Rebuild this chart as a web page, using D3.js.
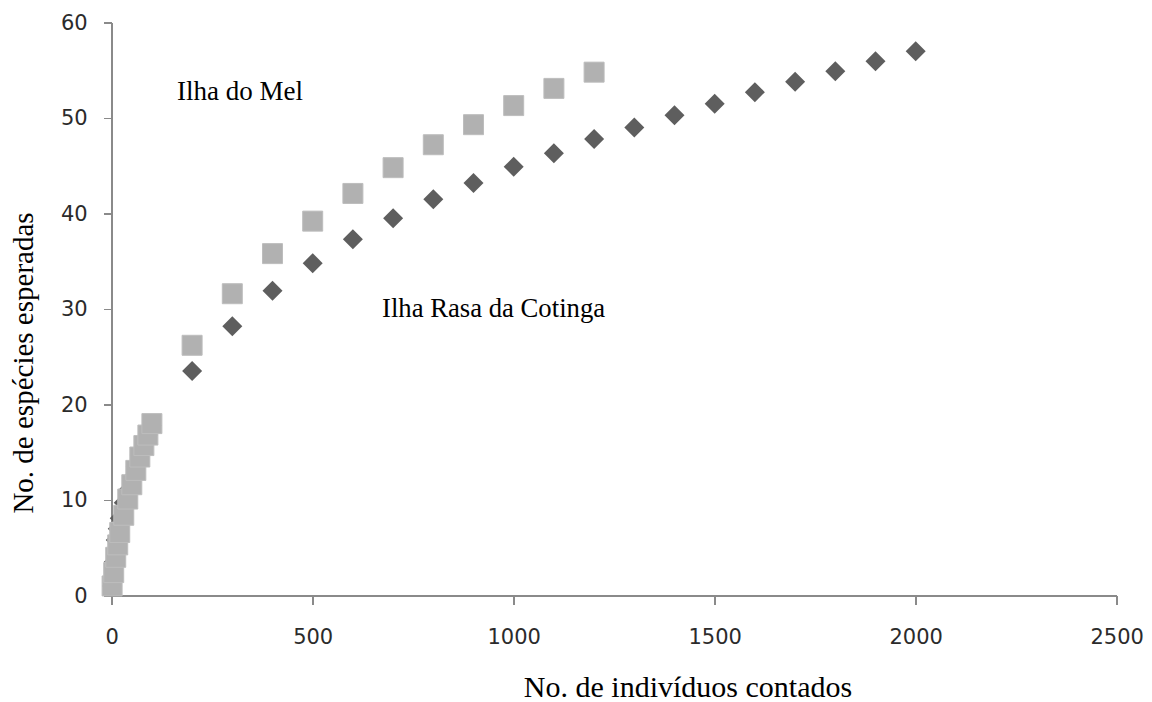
<!DOCTYPE html>
<html>
<head>
<meta charset="utf-8">
<script src="https://cdn.jsdelivr.net/npm/d3@7"></script>
<style>
    body { margin: 0; background: #fff; }
    .axis path, .axis line { stroke: #8a8a8a; stroke-width: 1.5px; shape-rendering: crispEdges; }
    .axis text { font-family: "DejaVu Sans", Verdana, sans-serif; font-size: 21px; fill: #2b2b2b; }
    .title { font-family: "Liberation Serif", "Times New Roman", serif; fill: #000; }
</style>
</head>
<body>
<svg class="rarefaction" width="1152" height="702"></svg>
<script>
"use strict";

// Ilha do Mel (squares)
var melIndividuals = [1, 5, 10, 15, 20, 30, 40, 50, 60, 70, 80, 90, 100,
    200, 300, 400, 500, 600, 700, 800, 900, 1000, 1100, 1200];
var melSpecies = [1.0, 2.4, 4.0, 5.3, 6.6, 8.4, 10.1, 11.6, 13.1, 14.5, 15.7, 16.8, 18.0,
    26.2, 31.6, 35.8, 39.2, 42.1, 44.8, 47.2, 49.3, 51.3, 53.1, 54.8];

// Ilha Rasa da Cotinga (diamonds)
var rasaIndividuals = [1, 5, 10, 15, 20, 30, 40, 50, 60, 70, 80, 90, 100,
    200, 300, 400, 500, 600, 700, 800, 900, 1000, 1100, 1200, 1300, 1400, 1500,
    1600, 1700, 1800, 1900, 2000];
var rasaSpecies = [1.0, 3.5, 5.8, 7.0, 8.1, 9.7, 11.0, 12.3, 13.5, 14.7, 15.8, 16.8, 17.8,
    23.5, 28.2, 31.9, 34.8, 37.3, 39.5, 41.5, 43.2, 44.9, 46.3, 47.8, 49.0, 50.3, 51.5,
    52.7, 53.8, 54.9, 55.95, 57.0];

var xTicks = [0, 500, 1000, 1500, 2000, 2500];
var yTicks = [0, 10, 20, 30, 40, 50, 60];

var xLabel = "No. de indivíduos contados";
var yLabel = "No. de espécies esperadas";
var melLabel = "Ilha do Mel";
var rasaLabel = "Ilha Rasa da Cotinga";

function zipPoints(xs, ys) {
    return xs.map(function (x, i) {
        return { n: x, s: ys[i] };
    });
}

function drawChart() {
    var svg = d3.select("svg.rarefaction");
    var margin = { top: 22.5, right: 35.3, bottom: 106.5, left: 111.7 };
    var width = +svg.attr("width") - margin.left - margin.right;
    var height = +svg.attr("height") - margin.top - margin.bottom;
    var g = svg.append("g").attr("transform", "translate(" + margin.left + ", " + margin.top + ")");

    var x = d3.scaleLinear().domain([0, 2500]).range([0, width]);
    var y = d3.scaleLinear().domain([0, 60]).range([height, 0]);

    g.append("g").attr("class", "axis axis--x").attr("transform", "translate(0, " + height + ")")
        .call(d3.axisBottom(x).tickValues(xTicks).tickSize(9).tickSizeOuter(0).tickPadding(25).tickFormat(d3.format("d")));

    g.append("g").attr("class", "axis axis--y")
        .call(d3.axisLeft(y).tickValues(yTicks).tickSize(8).tickSizeOuter(0).tickPadding(16).tickFormat(d3.format("d")));

    var diamond = d3.symbol().type(d3.symbolSquare).size(200);
    var square = d3.symbol().type(d3.symbolSquare).size(400);

    g.selectAll(".rasa").data(zipPoints(rasaIndividuals, rasaSpecies)).enter().append("path")
        .attr("class", "rasa").attr("d", diamond).attr("fill", "#5e5e5e")
        .attr("transform", function (d) {
            return "translate(" + x(d.n) + ", " + y(d.s) + ") rotate(45)";
        });

    g.selectAll(".mel").data(zipPoints(melIndividuals, melSpecies)).enter().append("path")
        .attr("class", "mel").attr("d", square).attr("fill", "#b1b1b1")
        .attr("stroke", "#bdbdbd").attr("stroke-width", 1)
        .attr("transform", function (d) {
            return "translate(" + x(d.n) + ", " + y(d.s) + ")";
        });

    // series labels
    svg.append("text").attr("class", "title").attr("x", 177).attr("y", 100)
        .style("font-size", "27px").text(melLabel);
    svg.append("text").attr("class", "title").attr("x", 382).attr("y", 317)
        .style("font-size", "26.7px").text(rasaLabel);

    // axis titles
    svg.append("text").attr("class", "title").attr("x", 688).attr("y", 697)
        .attr("text-anchor", "middle").style("font-size", "30px").text(xLabel);
    svg.append("text").attr("class", "title").attr("transform", "translate(33, 363) rotate(-90)")
        .attr("text-anchor", "middle").style("font-size", "29px").text(yLabel);
}

drawChart();
</script>
</body>
</html>
